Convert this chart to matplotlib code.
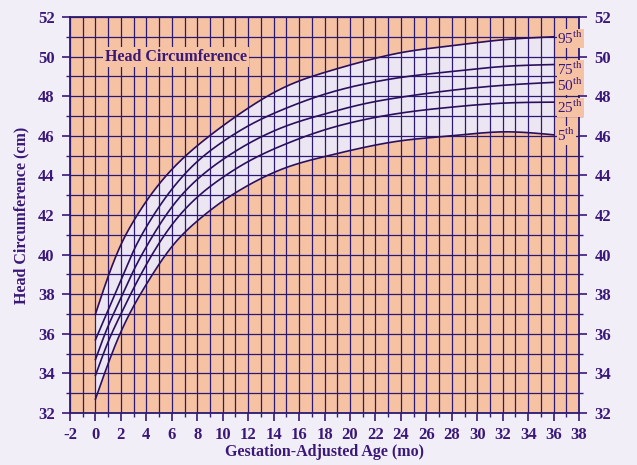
import numpy as np
import matplotlib
matplotlib.use("Agg")
import matplotlib.pyplot as plt
from matplotlib.ticker import MultipleLocator

# ---- data ----
months = [0, 1, 2, 3, 4, 6, 8, 10, 12, 15, 18, 21, 24, 28, 32, 36]
p95 = [37.0, 38.9, 40.5, 41.7, 42.7, 44.3, 45.5, 46.5, 47.4, 48.5, 49.2, 49.75, 50.2, 50.55, 50.85, 51.0]
p75 = [35.7, 37.2, 38.7, 40.2, 41.4, 43.3, 44.7, 45.7, 46.5, 47.4, 48.1, 48.6, 48.95, 49.25, 49.5, 49.6]
p50 = [34.7, 36.4, 37.8, 39.2, 40.4, 42.4, 43.8, 44.8, 45.6, 46.5, 47.1, 47.6, 47.95, 48.3, 48.55, 48.7]
p25 = [33.9, 35.6, 37.0, 38.3, 39.5, 41.5, 42.9, 43.9, 44.7, 45.6, 46.3, 46.8, 47.15, 47.45, 47.65, 47.7]
p5 = [32.7, 34.5, 36.1, 37.4, 38.5, 40.4, 41.7, 42.7, 43.5, 44.4, 44.95, 45.4, 45.75, 46.0, 46.2, 46.05]
series = [p95, p75, p50, p25, p5]
labels = ["95$^{\\mathregular{th}}$", "75$^{\\mathregular{th}}$", "50$^{\\mathregular{th}}$",
          "25$^{\\mathregular{th}}$", "5$^{\\mathregular{th}}$"]
label_y = [50.9, 49.36, 48.53, 47.44, 46.0]
xticks = list(range(-2, 39, 2))
xticklabels = [str(v) for v in xticks]
yticks = list(range(32, 53, 2))

# ---- style ----
SALMON = "#f6c2a4"
LAV = "#ece6f3"
BG = "#f1eef7"
GRID = "#2b1a70"
LINE = "#2a0f5e"
TXT = "#3a1878"
plt.rcParams['font.family'] = ['Liberation Serif', 'DejaVu Serif']

fig = plt.figure(figsize=(6.37, 4.65), dpi=100, facecolor=BG)
ax = fig.add_axes([0.1099, 0.1118, 0.7991, 0.8516])
ax.set_facecolor(SALMON)
ax.set_xlim(-2, 38)
ax.set_ylim(32, 52)

xs = np.linspace(months[0], months[-1], 500)

def spline(y):
    # natural cubic spline through the read points
    x = np.array(months, float); y = np.array(y, float)
    n = len(x); h = np.diff(x)
    A = np.zeros((n, n)); b = np.zeros(n)
    A[0, 0] = 1; A[-1, -1] = 1
    for i in range(1, n - 1):
        A[i, i-1] = h[i-1]; A[i, i] = 2*(h[i-1] + h[i]); A[i, i+1] = h[i]
        b[i] = 3*((y[i+1]-y[i])/h[i] - (y[i]-y[i-1])/h[i-1])
    c = np.linalg.solve(A, b)
    out = np.empty_like(xs)
    for j, xv in enumerate(xs):
        k = min(np.searchsorted(x, xv, side='right') - 1, n - 2)
        bk = (y[k+1]-y[k])/h[k] - h[k]*(2*c[k] + c[k+1])/3
        dk = (c[k+1]-c[k])/(3*h[k])
        t = xv - x[k]
        out[j] = y[k] + bk*t + c[k]*t**2 + dk*t**3
    return out

sm = [spline(s) for s in series]
ax.fill_between(xs, sm[4], sm[0], color=LAV, zorder=1, linewidth=0)

# grid
for xv in range(-2, 39):
    ax.axvline(xv, color=GRID, lw=0.9, zorder=2)
for yv in range(32, 53):
    ax.axhline(yv, color=GRID, lw=0.9, zorder=2)

for s in sm:
    ax.plot(xs, s, color=LINE, lw=1.2, zorder=3)

for lab, ly in zip(labels, label_y):
    ax.text(36.3, ly, lab, fontsize=11, color=TXT, va='center', ha='left', zorder=4,
            bbox=dict(facecolor=SALMON, edgecolor='none', pad=0.6))

ax.text(6.3, 50.0, "Head Circumference", fontsize=11.5, fontweight='bold', color=TXT,
        ha='center', va='center', zorder=4,
        bbox=dict(facecolor=SALMON, edgecolor='none', pad=1.5))

ax.set_xticks(xticks)
ax.set_xticklabels(xticklabels)
ax.set_yticks(yticks)
ax.yaxis.set_minor_locator(MultipleLocator(1))
ax.xaxis.set_minor_locator(MultipleLocator(1))
ax.tick_params(axis='both', which='major', labelsize=12, colors=TXT, length=6, width=1.2,
               left=True, right=True, labelright=True, labelleft=True)
ax.tick_params(axis='both', which='minor', length=3, width=1.0, colors=TXT,
               left=True, right=True)
for lab in ax.get_xticklabels() + ax.get_yticklabels():
    lab.set_fontweight('bold')
ax.tick_params(axis='y', pad=5)
ax.tick_params(axis='x', pad=4)
for sp in ax.spines.values():
    sp.set_color(GRID)
    sp.set_linewidth(1.3)

ax.set_xlabel("Gestation-Adjusted Age (mo)", fontsize=11.5, fontweight='bold', color=TXT, labelpad=1)
ax.set_ylabel("Head Circumference (cm)", fontsize=11.5, fontweight='bold', color=TXT, labelpad=6)

fig.savefig("out.png", dpi=100, facecolor=BG)
